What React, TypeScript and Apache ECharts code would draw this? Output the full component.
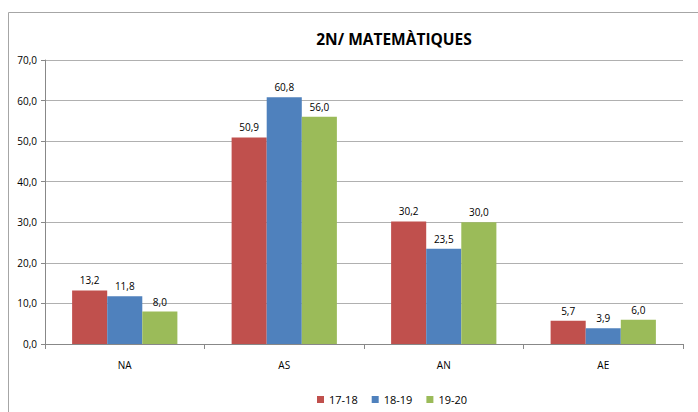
import React, { useEffect, useRef } from "react";
import * as echarts from "echarts";

const categories = ["NA", "AS", "AN", "AE"];
const seriesNames = ["17-18", "18-19", "19-20"];
const values1718 = [13.2, 50.9, 30.2, 5.7];
const values1819 = [11.8, 60.8, 23.5, 3.9];
const values1920 = [8.0, 56.0, 30.0, 6.0];
const colors = ["#C0504D", "#4F81BD", "#9BBB59"];

const fmt = (v: number) => v.toFixed(1).replace(".", ",");
const FONT = "'Open Sans', 'Liberation Sans', sans-serif";

export default function App() {
  const ref = useRef<HTMLDivElement>(null);
  useEffect(() => {
    if (!ref.current) return;
    const chart = echarts.init(ref.current, null, { renderer: "svg" });
    const data = [values1718, values1819, values1920];
    chart.setOption({
      animation: false,
      backgroundColor: "#ffffff",
      textStyle: { fontFamily: FONT },
      title: {
        text: "2N/ MATEMÀTIQUES",
        left: 389,
        top: 26,
        textAlign: "center",
        textStyle: { fontSize: 15.5, fontWeight: "bold", color: "#000", fontFamily: FONT },
      },
      legend: {
        data: seriesNames,
        top: 389,
        left: 312,
        icon: "rect",
        itemWidth: 7,
        itemHeight: 7,
        itemGap: 14,
        textStyle: { fontSize: 11, color: "#000", fontFamily: FONT },
      },
      graphic: [
        { type: "line", shape: { x1: 8.5, y1: 12.5, x2: 698, y2: 12.5 }, style: { stroke: "#a6a6a6", lineWidth: 1 } },
        { type: "line", shape: { x1: 8.5, y1: 12.5, x2: 8.5, y2: 412 }, style: { stroke: "#a6a6a6", lineWidth: 1 } },
      ],
      grid: { left: 45, right: 15, top: 60, bottom: 68, containLabel: false },
      xAxis: {
        type: "category",
        data: categories,
        axisLine: { lineStyle: { color: "#888" } },
        axisTick: { show: true, alignWithLabel: false, length: 5, lineStyle: { color: "#888" } },
        axisLabel: { fontSize: 10, color: "#000", margin: 16, fontFamily: FONT },
      },
      yAxis: {
        type: "value",
        min: 0,
        max: 70,
        interval: 10,
        axisLine: { show: true, lineStyle: { color: "#888" } },
        axisTick: { show: true, length: 4, lineStyle: { color: "#888" } },
        splitLine: { lineStyle: { color: "#b0b0b0" } },
        axisLabel: { fontSize: 10, color: "#000", margin: 8, formatter: fmt, fontFamily: FONT },
      },
      series: seriesNames.map((name, i) => ({
        name,
        type: "bar",
        data: data[i],
        barGap: "0%",
        barCategoryGap: "34%",
        itemStyle: { color: colors[i] },
        label: {
          show: true,
          position: "top",
          distance: 5,
          fontSize: 10,
          color: "#000",
          fontFamily: FONT,
          formatter: (p: any) => fmt(p.value),
        },
      })),
    });
    return () => chart.dispose();
  }, []);
  return <div ref={ref} style={{ width: 698, height: 412, position: "absolute", left: 0, top: 0 }} />;
}
